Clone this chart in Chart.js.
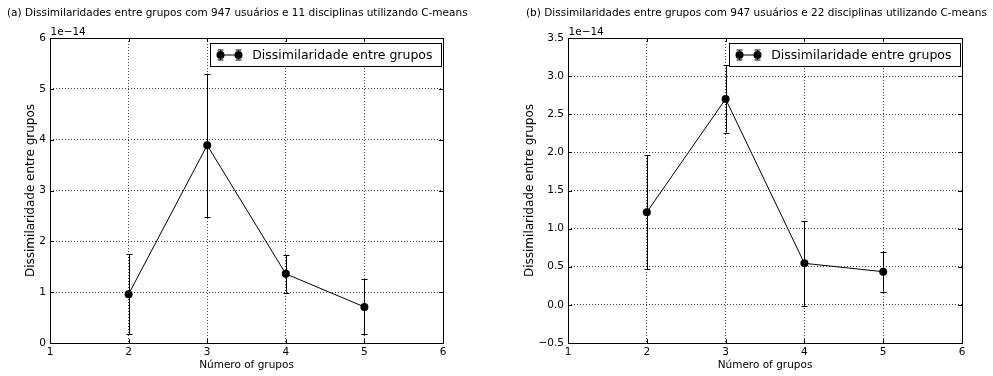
<!DOCTYPE html>
<html>
<head>
<meta charset="utf-8">
<script src="https://cdn.jsdelivr.net/npm/chart.js@4/dist/chart.umd.min.js"></script>
<style>
  html, body { margin: 0; padding: 0; background: #fff; }
  #wrap { position: relative; width: 993px; height: 376px; overflow: hidden; }
  canvas { position: absolute; top: 0; }
</style>
</head>
<body>
<div id="wrap">
  <canvas id="chartA" width="496" height="376" style="left:0px"></canvas>
  <canvas id="chartB" width="497" height="376" style="left:496px"></canvas>
</div>
<script>
// Number of groups on the horizontal axis
const groups = [2, 3, 4, 5];

// (a) 947 users, 11 subjects — mean dissimilarity and its spread (units of 1e-14)
const meanA = [0.96, 3.89, 1.36, 0.71];
const errA  = [0.79, 1.41, 0.37, 0.54];

// (b) 947 users, 22 subjects
const meanB = [1.215, 2.70, 0.545, 0.435];
const errB  = [0.745, 0.44, 0.555, 0.26];

// Tick values
const xTicks  = [1, 2, 3, 4, 5, 6];
const yTicksA = [0, 1, 2, 3, 4, 5, 6];
const yTicksB = [-0.5, 0, 0.5, 1.0, 1.5, 2.0, 2.5, 3.0, 3.5];

// Texts
const titleA = '(a) Dissimilaridades entre grupos com 947 usuários e 11 disciplinas utilizando C-means';
const titleB = '(b) Dissimilaridades entre grupos com 947 usuários e 22 disciplinas utilizando C-means';
const seriesLabel = 'Dissimilaridade entre grupos';
const xLabel = 'Número of grupos';
const yLabel = 'Dissimilaridade entre grupos';
const scaleNote = '1e\u221214';

const FAMILY = '"DejaVu Sans", "Liberation Sans", sans-serif';
const GRID = 'rgba(0,0,0,0.75)';

// Frame, inward ticks, error bars, legend and text annotations
const decorations = {
  id: 'decorations',
  beforeDatasetsDraw(chart) {
    const { ctx, chartArea: a, scales: { x, y } } = chart;
    ctx.save();
    ctx.strokeStyle = '#000';
    ctx.lineWidth = 1;
    ctx.beginPath();
    x.ticks.forEach(t => {
      const px = Math.round(x.getPixelForValue(t.value)) + 0.5;
      ctx.moveTo(px, a.bottom); ctx.lineTo(px, a.bottom - 4);
      ctx.moveTo(px, a.top); ctx.lineTo(px, a.top + 4);
    });
    y.ticks.forEach(t => {
      const py = Math.round(y.getPixelForValue(t.value)) + 0.5;
      ctx.moveTo(a.left, py); ctx.lineTo(a.left + 4, py);
      ctx.moveTo(a.right, py); ctx.lineTo(a.right - 4, py);
    });
    ctx.stroke();

    // error bars
    const ds = chart.data.datasets[0];
    ctx.beginPath();
    ds.data.forEach((p, i) => {
      const px = Math.round(x.getPixelForValue(p.x)) + 0.5;
      const yTop = y.getPixelForValue(p.y + ds.errors[i]);
      const yBot = y.getPixelForValue(p.y - ds.errors[i]);
      ctx.moveTo(px, yTop); ctx.lineTo(px, yBot);
      ctx.moveTo(px - 3, Math.round(yTop) + 0.5); ctx.lineTo(px + 3, Math.round(yTop) + 0.5);
      ctx.moveTo(px - 3, Math.round(yBot) + 0.5); ctx.lineTo(px + 3, Math.round(yBot) + 0.5);
    });
    ctx.stroke();
    ctx.restore();
  },
  afterDatasetsDraw(chart, args, opts) {
    const { ctx, chartArea: a } = chart;
    ctx.save();
    ctx.strokeStyle = '#000';
    ctx.lineWidth = 1;
    ctx.strokeRect(Math.round(a.left) + 0.5, Math.round(a.top) + 0.5,
                   Math.round(a.right) - Math.round(a.left), Math.round(a.bottom) - Math.round(a.top));

    // legend
    ctx.font = '12.5px ' + FAMILY;
    const label = chart.data.datasets[0].label;
    const textW = ctx.measureText(label).width;
    const boxRight = Math.round(a.right) - 1.5;
    const boxTop = Math.round(a.top) + 5.5;
    const boxH = 23;
    const cy = boxTop + boxH / 2;
    const textX = boxRight - 9 - textW;
    const m2 = Math.round(textX - 14);
    const m1 = m2 - 18;
    const boxLeft = m1 - 9.5;
    ctx.fillStyle = '#fff';
    ctx.fillRect(boxLeft, boxTop, boxRight - boxLeft, boxH);
    ctx.strokeRect(boxLeft, boxTop, boxRight - boxLeft, boxH);
    ctx.beginPath();
    ctx.moveTo(m1, cy); ctx.lineTo(m2, cy);
    [m1, m2].forEach(m => {
      const mx = m + 0.5;
      ctx.moveTo(mx, cy - 5); ctx.lineTo(mx, cy + 5);
      ctx.moveTo(mx - 3, cy - 5); ctx.lineTo(mx + 3, cy - 5);
      ctx.moveTo(mx - 3, cy + 5); ctx.lineTo(mx + 3, cy + 5);
    });
    ctx.stroke();
    ctx.fillStyle = '#000';
    [m1, m2].forEach(m => { ctx.beginPath(); ctx.arc(m + 0.5, cy, 4, 0, Math.PI * 2); ctx.fill(); });
    ctx.textAlign = 'left';
    ctx.textBaseline = 'middle';
    ctx.fillText(label, textX, cy + 0.5);

    // panel title and exponent note
    ctx.font = '10.5px ' + FAMILY;
    ctx.fillText(opts.title, opts.titleX, 13);
    ctx.fillText(scaleNote, a.left + 0.5, a.top - 6);
    ctx.restore();
  }
};

function makeChart(id, mean, err, yTicks, fmt, yWidth, padRight, yTitlePad, title, titleX) {
  const font = { family: FAMILY, size: 10.5 };
  return new Chart(document.getElementById(id), {
    type: 'line',
    data: {
      datasets: [{
        label: seriesLabel,
        data: groups.map((g, i) => ({ x: g, y: mean[i] })),
        errors: err,
        borderColor: '#000',
        backgroundColor: '#000',
        borderWidth: 1,
        pointRadius: 4,
        pointBackgroundColor: '#000',
        pointBorderColor: '#000',
        pointBorderWidth: 0,
        tension: 0,
        fill: false
      }]
    },
    options: {
      responsive: false,
      animation: false,
      devicePixelRatio: 1,
      layout: { padding: { top: 38, right: padRight, bottom: 0, left: 0 } },
      plugins: {
        legend: { display: false },
        tooltip: { enabled: false },
        decorations: { title: title, titleX: titleX }
      },
      scales: {
        x: {
          type: 'linear',
          min: xTicks[0],
          max: xTicks[xTicks.length - 1],
          afterBuildTicks: s => { s.ticks = xTicks.map(v => ({ value: v })); },
          afterFit: s => { s.height = 33; s.paddingLeft = 0; s.paddingRight = 0; },
          grid: { color: GRID, lineWidth: 1, drawTicks: false },
          border: { display: false, dash: [1, 2] },
          ticks: { color: '#000', font: font, padding: 3, maxRotation: 0, autoSkip: false,
                   callback: v => String(v) },
          title: { display: true, text: xLabel, color: '#000', font: font,
                   padding: { top: 0, bottom: 4 } }
        },
        y: {
          type: 'linear',
          min: yTicks[0],
          max: yTicks[yTicks.length - 1],
          afterBuildTicks: s => { s.ticks = yTicks.map(v => ({ value: v })); },
          afterFit: s => { s.width = yWidth; s.paddingTop = 0; s.paddingBottom = 0; },
          grid: { color: GRID, lineWidth: 1, drawTicks: false },
          border: { display: false, dash: [1, 2] },
          ticks: { color: '#000', font: font, padding: 4, autoSkip: false, callback: fmt },
          title: { display: true, text: yLabel, color: '#000', font: { family: FAMILY, size: 12 },
                   padding: { top: yTitlePad, bottom: 0 } }
        }
      }
    },
    plugins: [decorations]
  });
}

makeChart('chartA', meanA, errA, yTicksA, v => String(v), 50, 53, 24, titleA, 7);
makeChart('chartB', meanB, errB, yTicksB, v => v.toFixed(1).replace('-', '\u2212'), 72, 31, 27, titleB, 30);
</script>
</body>
</html>
